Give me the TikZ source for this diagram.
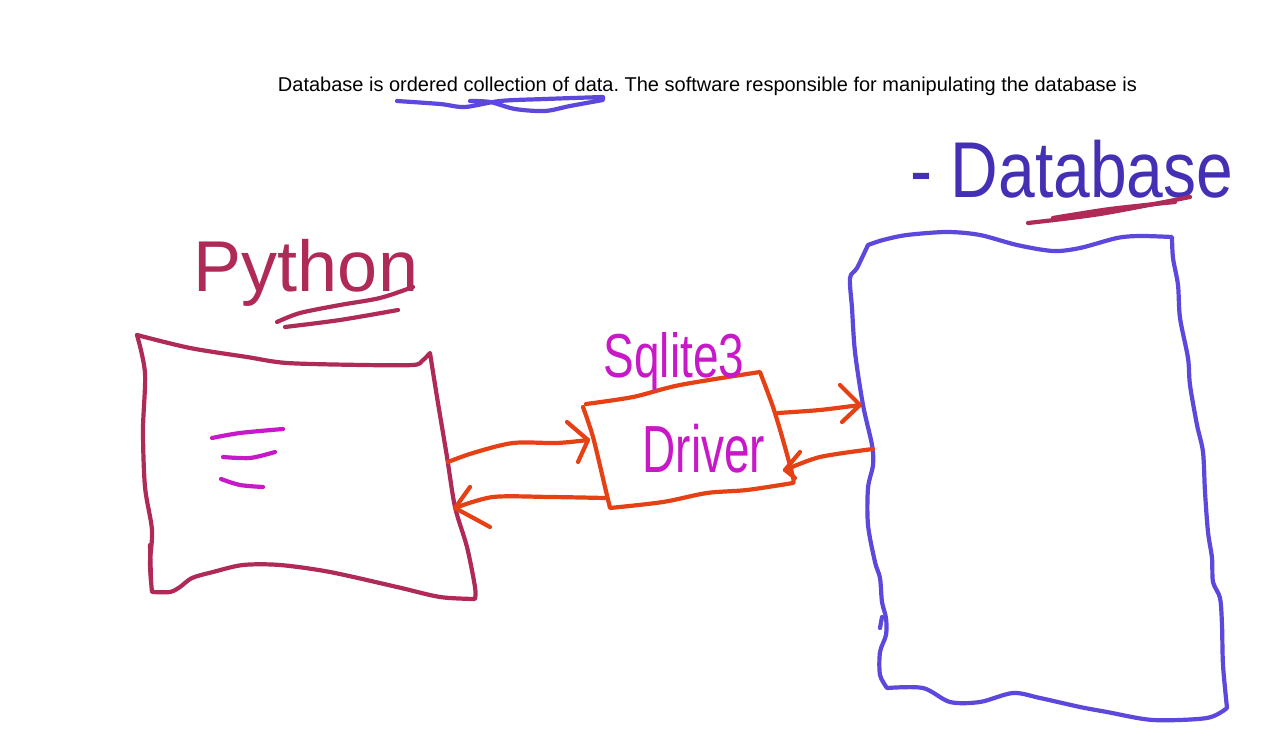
\documentclass[tikz,border=0pt]{standalone}
\usepackage{fontspec}
\setmainfont{Liberation Sans}
\frenchspacing
\definecolor{maroon}{RGB}{176,42,88}
\definecolor{mag}{RGB}{200,25,200}
\definecolor{orng}{RGB}{230,65,20}
\definecolor{bluebox}{RGB}{92,72,220}
\definecolor{bluelab}{RGB}{68,48,180}
\begin{document}
\begin{tikzpicture}[x=0.5pt,y=-0.5pt,line cap=round,line join=round,
  pen/.style={line width=2.1pt},
  sk/.style={smooth,tension=0.5},
  hand/.style={anchor=base,inner sep=0pt}]
\useasboundingbox[fill=white] (0,0) rectangle (1265,754);

% heading
\node[hand,text=black] (head) at (707.5,92)
  {\resizebox{429.5pt}{!}{Database is ordered collection of data. The software responsible for manipulating the database is}};
\draw[pen,bluebox] plot[sk] coordinates {(397,101) (440,104) (465,107) (500,101) (545,99) (603,97)}
  -- plot[sk] coordinates {(603,100) (570,106) (545,111) (515,109) (490,102) (470,101)};

% ---------- Python box ----------
\draw[pen,maroon]
  plot[sk] coordinates {(137,335) (190,348) (247,357) (287,363) (363,365) (413,365) (422,361) (430,353)}
  -- plot[sk] coordinates {(430,353) (437,397) (447,457) (455,507) (467,547) (475,587) (475,599)}
  -- plot[sk] coordinates {(475,599) (440,597) (397,587) (330,572) (280,565) (243,565) (213,572) (192,578) (180,587) (170,592) (152,592)}
  -- plot[sk] coordinates {(152,592) (150,563) (152,530) (145,487) (143,430) (145,373) (137,335)};
\draw[pen,maroon] (150,545) -- (151,580);
\coordinate (pyout) at (448,462);
\coordinate (pyin) at (455,508);

\node[hand,text=maroon,font=\fontsize{36}{40}\selectfont] (pylab) at (306,292) {Python};
\draw[pen,maroon] plot[sk] coordinates {(277,322) (300,313) (340,305) (380,298) (413,287)};
\draw[pen,maroon] plot[sk] coordinates {(285,327) (340,320) (398,310)};

\draw[pen,mag] plot[sk] coordinates {(212,438) (240,433) (283,429)};
\draw[pen,mag] plot[sk] coordinates {(223,457) (250,458) (275,452)};
\draw[pen,mag] plot[sk] coordinates {(221,479) (240,485) (263,487)};

% ---------- Driver box ----------
\draw[pen,orng]
  plot[sk] coordinates {(586,404) (633,397) (680,385) (760,372)}
  -- plot[sk] coordinates {(760,372) (773,407) (783,440) (793,477) (793,483)}
  -- plot[sk] coordinates {(793,483) (747,490) (707,493) (663,502) (610,508)}
  -- plot[sk] coordinates {(610,508) (605,487) (593,437) (583,407)};
\coordinate (drvinL) at (588,440);
\coordinate (drvoutL) at (605,498);
\coordinate (drvoutR) at (778,413);
\coordinate (drvinR) at (785,470);

\node[hand,text=mag,font=\fontsize{23}{26}\selectfont] (sqlab) at (674,378) {\scalebox{1}[1.35]{Sqlite3}};
\node[hand,text=mag,font=\fontsize{23}{26}\selectfont] (drvlab) at (704,473) {\scalebox{1}[1.45]{Driver}};

% ---------- Database box ----------
\draw[pen,bluebox]
  plot[sk] coordinates {(868,245) (883,240) (907,235) (947,232) (980,235) (1017,245) (1053,251) (1080,248) (1117,238) (1140,236) (1172,237)}
  -- plot[sk] coordinates {(1172,237) (1173,258) (1178,285) (1180,318) (1188,358) (1190,385) (1197,425) (1203,452) (1205,492) (1208,532) (1212,558) (1213,582) (1220,598) (1222,625) (1223,665) (1227,708)}
  -- plot[sk] coordinates {(1227,708) (1207,718) (1153,720) (1107,712) (1080,707) (1040,698) (1013,693) (980,702) (950,702) (923,688) (887,688)}
  -- plot[sk] coordinates {(887,688) (880,675) (880,652) (886,635) (886,618) (882,602) (880,578) (875,562) (868,525) (868,488) (873,465) (872,445) (863,405) (855,352) (852,308) (850,278) (857,268) (868,245)};
\draw[pen,bluebox] (882,617) -- (880,628);
\coordinate (dbin) at (860,405);
\coordinate (dbout) at (873,449);

\node[hand,text=bluelab,font=\fontsize{33}{36}\selectfont] (dblab) at (1072,198) {\scalebox{1}[1.2]{- Database}};
\draw[pen,maroon] plot[sk] coordinates {(1028,223) (1100,214) (1190,197)};
\draw[pen,maroon] plot[sk] coordinates {(1053,218) (1110,209) (1175,202)};

% ---------- arrows ----------
\draw[pen,orng] plot[sk] coordinates {(pyout) (473,453) (513,443) (557,443) (drvinL)};
\draw[pen,orng] (drvinL) -- ++(-21,-18) (drvinL) -- ++(-10,22);

\draw[pen,orng] plot[sk] coordinates {(drvoutL) (550,497) (493,497) (pyin)};
\draw[pen,orng] (pyin) -- ++(15,-21) (pyin) -- ++(35,19);

\draw[pen,orng] plot[sk] coordinates {(drvoutR) (820,410) (dbin)};
\draw[pen,orng] (dbin) -- ++(-20,-20) (dbin) -- ++(-18,17);

\draw[pen,orng] plot[sk] coordinates {(dbout) (820,457) (drvinR)};
\draw[pen,orng] (drvinR) -- ++(15,-18) (drvinR) -- ++(10,8);
\end{tikzpicture}
\end{document}
